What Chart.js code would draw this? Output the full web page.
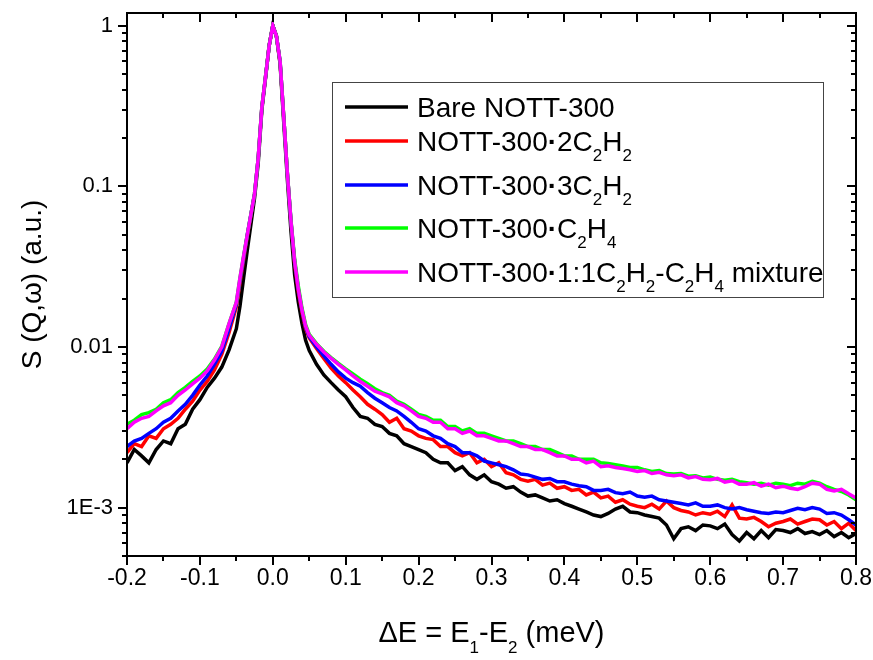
<!DOCTYPE html>
<html>
<head>
<meta charset="utf-8">
<script src="https://cdn.jsdelivr.net/npm/chart.js@4.4.1/dist/chart.umd.min.js"></script>
<style>
  html, body { margin: 0; padding: 0; background: #fff; }
  #wrap { width: 873px; height: 660px; }
</style>
</head>
<body>
<div id="wrap"><canvas id="chart" width="873" height="660"></canvas></div>
<script>
// energy transfer (meV) - finer steps round the elastic peak
const energy = [
  -0.20, -0.19, -0.18, -0.17, -0.16, -0.15, -0.14, -0.13, -0.12, -0.11,
  -0.10, -0.09, -0.08, -0.07, -0.06, -0.05,
  -0.045, -0.04, -0.035, -0.03, -0.025, -0.02, -0.015, -0.01, -0.005, 0,
  0.005, 0.01, 0.015, 0.02, 0.025, 0.03, 0.035, 0.04, 0.045,
  0.05, 0.06, 0.07, 0.08, 0.09, 0.10,
  0.11, 0.12, 0.13, 0.14, 0.15, 0.16, 0.17, 0.18, 0.19, 0.20,
  0.21, 0.22, 0.23, 0.24, 0.25, 0.26, 0.27, 0.28, 0.29, 0.30,
  0.31, 0.32, 0.33, 0.34, 0.35, 0.36, 0.37, 0.38, 0.39, 0.40,
  0.41, 0.42, 0.43, 0.44, 0.45, 0.46, 0.47, 0.48, 0.49, 0.50,
  0.51, 0.52, 0.53, 0.54, 0.55, 0.56, 0.57, 0.58, 0.59, 0.60,
  0.61, 0.62, 0.63, 0.64, 0.65, 0.66, 0.67, 0.68, 0.69, 0.70,
  0.71, 0.72, 0.73, 0.74, 0.75, 0.76, 0.77, 0.78, 0.79, 0.80
];

const bare = [
  0.0019, 0.0023, 0.0021, 0.0019, 0.0023, 0.0026, 0.0025, 0.0031, 0.0033, 0.0041,
  0.0047, 0.0056, 0.0064, 0.0075, 0.0096, 0.0130,
  0.018, 0.027, 0.040, 0.058, 0.085, 0.14, 0.30, 0.47, 0.75, 1.0,
  0.86, 0.58, 0.25, 0.11, 0.052, 0.028, 0.019, 0.014, 0.011,
  0.0095, 0.0078, 0.0067, 0.0060, 0.0054, 0.0049,
  0.0042, 0.0037, 0.0036, 0.0033, 0.0032, 0.0029, 0.0028, 0.0025, 0.0024, 0.0023,
  0.0022, 0.0020, 0.0019, 0.0019, 0.0017, 0.0018, 0.0016, 0.0015, 0.0016, 0.00145,
  0.00140, 0.00132, 0.00135, 0.00125, 0.00118, 0.00120, 0.00115, 0.00110, 0.00112, 0.00106,
  0.00102, 0.00098, 0.00094, 0.00090, 0.00088, 0.00092, 0.00098, 0.00102, 0.00094, 0.00093,
  0.00090, 0.00088, 0.00086, 0.00078, 0.00064, 0.00074, 0.00076, 0.00072, 0.00078, 0.00077,
  0.00074, 0.00079, 0.00068, 0.00062, 0.00070, 0.00064, 0.00072, 0.00065, 0.00073, 0.00072,
  0.00070, 0.00074, 0.00069, 0.00071, 0.00068, 0.00072, 0.00066, 0.00070, 0.00065, 0.00069
];

const twoC2H2 = [
  0.0022, 0.0025, 0.0024, 0.0028, 0.0027, 0.0031, 0.0033, 0.0036, 0.0041, 0.0046,
  0.0054, 0.0061, 0.0072, 0.0090, 0.0123, 0.0178,
  0.025, 0.035, 0.049, 0.066, 0.09, 0.15, 0.31, 0.48, 0.75, 1.0,
  0.86, 0.59, 0.27, 0.12, 0.059, 0.033, 0.022, 0.0165, 0.0130,
  0.0114, 0.0098, 0.0085, 0.0074, 0.0066, 0.0060,
  0.0054, 0.0049, 0.0044, 0.0041, 0.0038, 0.0034, 0.0036, 0.0031, 0.0030, 0.0028,
  0.0027, 0.00265, 0.0024, 0.0024, 0.0022, 0.0021, 0.0022, 0.0019, 0.0020, 0.0018,
  0.0019, 0.00165, 0.0016, 0.0015, 0.00146, 0.00150, 0.00138, 0.00142, 0.00132, 0.00135,
  0.00128, 0.00130, 0.00120, 0.00125, 0.00115, 0.00118, 0.00108, 0.00112, 0.00105, 0.00102,
  0.00100, 0.00105, 0.00098, 0.00110, 0.00100, 0.00096, 0.00094, 0.00090, 0.00093, 0.00091,
  0.00095, 0.00088, 0.00104, 0.00086, 0.00085, 0.00087, 0.00082, 0.00076, 0.00080, 0.00082,
  0.00085, 0.00079, 0.00082, 0.00085, 0.00084, 0.00078, 0.00082, 0.00074, 0.00080, 0.00072
];

const threeC2H2 = [
  0.0024, 0.0026, 0.0027, 0.0029, 0.0031, 0.0034, 0.0036, 0.0040, 0.0044, 0.0050,
  0.0058, 0.0066, 0.0078, 0.0094, 0.0130, 0.0185,
  0.026, 0.036, 0.050, 0.067, 0.09, 0.15, 0.31, 0.48, 0.75, 1.0,
  0.86, 0.60, 0.27, 0.12, 0.060, 0.034, 0.023, 0.017, 0.0133,
  0.0116, 0.0100, 0.0088, 0.0078, 0.0070, 0.0064,
  0.0060, 0.0057, 0.0052, 0.0048, 0.0045, 0.0042, 0.0040, 0.0037, 0.0034, 0.0031,
  0.0030, 0.0028, 0.0027, 0.0025, 0.0024, 0.0022, 0.0022, 0.0021, 0.00195, 0.0019,
  0.00185, 0.0018, 0.00172, 0.00162, 0.00160, 0.00155, 0.00150, 0.00152, 0.00145, 0.00145,
  0.00140, 0.00137, 0.00135, 0.00128, 0.00128, 0.00130, 0.00124, 0.00122, 0.00125, 0.00118,
  0.00116, 0.00118, 0.00112, 0.00110, 0.00108, 0.00106, 0.00104, 0.00107, 0.00102, 0.00102,
  0.00104, 0.00100, 0.00098, 0.00100, 0.00097, 0.00095, 0.00093, 0.00092, 0.00094, 0.00093,
  0.00096, 0.00099, 0.00097, 0.00100, 0.00098, 0.00092, 0.00093, 0.00090, 0.00084, 0.00078
];

const c2H4 = [
  0.0033, 0.0035, 0.0038, 0.0039, 0.0041, 0.0045, 0.0047, 0.0052, 0.0056, 0.0061,
  0.0066, 0.0073, 0.0084, 0.0101, 0.0140, 0.0190,
  0.027, 0.037, 0.050, 0.067, 0.09, 0.15, 0.31, 0.48, 0.75, 1.0,
  0.86, 0.60, 0.27, 0.12, 0.061, 0.035, 0.024, 0.0175, 0.0138,
  0.0120, 0.0105, 0.0094, 0.0086, 0.0079, 0.0073,
  0.0068, 0.0063, 0.0059, 0.0055, 0.0052, 0.0050, 0.0046, 0.0044, 0.0041, 0.0038,
  0.0037, 0.0035, 0.0035, 0.0032, 0.0032, 0.0030, 0.0031, 0.0029, 0.0029, 0.0028,
  0.0027, 0.0026, 0.0026, 0.0025, 0.0024, 0.0024, 0.0023, 0.0023, 0.0022, 0.0021,
  0.0021, 0.0020, 0.0020, 0.0020, 0.0019, 0.00188, 0.00185, 0.00182, 0.00178, 0.00178,
  0.00172, 0.00168, 0.00170, 0.00163, 0.00162, 0.00163, 0.00157, 0.00158, 0.00153, 0.00155,
  0.00150, 0.00148, 0.00150, 0.00145, 0.00143, 0.00140, 0.00142, 0.00138, 0.00142, 0.00140,
  0.00137, 0.00142, 0.00140, 0.00146, 0.00142, 0.00135, 0.00130, 0.00126, 0.00120, 0.00112
];

const mixture = [
  0.0031, 0.0034, 0.0036, 0.0037, 0.0040, 0.0043, 0.0045, 0.0050, 0.0054, 0.0059,
  0.0064, 0.0071, 0.0083, 0.0100, 0.0140, 0.0190,
  0.027, 0.037, 0.050, 0.067, 0.09, 0.15, 0.31, 0.48, 0.75, 1.0,
  0.86, 0.60, 0.27, 0.12, 0.060, 0.034, 0.023, 0.017, 0.0135,
  0.0118, 0.0104, 0.0093, 0.0085, 0.0078, 0.0072,
  0.0066, 0.0061, 0.0057, 0.0053, 0.0051, 0.0049, 0.0045, 0.0043, 0.0040, 0.0037,
  0.0036, 0.0034, 0.0034, 0.0031, 0.0031, 0.0029, 0.0030, 0.0028, 0.0028, 0.0027,
  0.0026, 0.0026, 0.0025, 0.0024, 0.0024, 0.0023, 0.0023, 0.0022, 0.0021, 0.0021,
  0.0020, 0.0020, 0.0019, 0.00195, 0.0018, 0.00182, 0.00178, 0.00175, 0.00172, 0.00168,
  0.00170, 0.00163, 0.00166, 0.00160, 0.00158, 0.00160, 0.00153, 0.00156, 0.00150, 0.00149,
  0.00152, 0.00144, 0.00147, 0.00140, 0.00140, 0.00143, 0.00136, 0.00140, 0.00133, 0.00136,
  0.00132, 0.00130, 0.00135, 0.00142, 0.00140, 0.00130, 0.00127, 0.00130, 0.00122, 0.00115
];

const seriesLabels = [
  'Bare NOTT-300',
  'NOTT-300·2C₂H₂',
  'NOTT-300·3C₂H₂',
  'NOTT-300·C₂H₄',
  'NOTT-300·1:1C₂H₂-C₂H₄ mixture'
];
const seriesColors = ['#000000', '#ff0000', '#0000ff', '#00ff00', '#ff00ff'];
const seriesValues = [bare, twoC2H2, threeC2H2, c2H4, mixture];

const xMajorTicks = [-0.2, -0.1, 0, 0.1, 0.2, 0.3, 0.4, 0.5, 0.6, 0.7, 0.8];
const xMinorTicks = [-0.15, -0.05, 0.05, 0.15, 0.25, 0.35, 0.45, 0.55, 0.65, 0.75];
const yMajorTicks = [0.001, 0.01, 0.1, 1];
const yTickLabels = ['1E-3', '0.01', '0.1', '1'];
const yMinorTicks = [
  0.0005, 0.0006, 0.0007, 0.0008, 0.0009,
  0.002, 0.003, 0.004, 0.005, 0.006, 0.007, 0.008, 0.009,
  0.02, 0.03, 0.04, 0.05, 0.06, 0.07, 0.08, 0.09,
  0.2, 0.3, 0.4, 0.5, 0.6, 0.7, 0.8, 0.9
];

const xTitle = 'ΔE = E₁-E₂ (meV)';
const yTitle = 'S (Q,ω) (a.u.)';

const FONT = '"Liberation Sans", Arial, sans-serif';
const NARROW = '"Liberation Sans Narrow", "Arial Narrow", "Liberation Sans", sans-serif';
const SUBS = { '₀': '0', '₁': '1', '₂': '2', '₃': '3', '₄': '4' };

// split a label into normal / subscript / bold-dot runs
function richParts(text) {
  const parts = [];
  for (const ch of text) {
    const kind = SUBS[ch] !== undefined ? 'sub' : (ch === '·' ? 'dot' : 'main');
    const s = kind === 'sub' ? SUBS[ch] : ch;
    const last = parts[parts.length - 1];
    if (last && last.kind === kind) last.text += s;
    else parts.push({ text: s, kind: kind });
  }
  return parts;
}

function drawRich(ctx, text, x, y, size, align) {
  const parts = richParts(text);
  const fonts = {
    main: size + 'px ' + FONT,
    dot: 'bold ' + size + 'px ' + FONT,
    sub: Math.round(size * 0.6) + 'px ' + FONT
  };
  let w = 0;
  parts.forEach(p => {
    ctx.font = fonts[p.kind];
    p.w = ctx.measureText(p.text).width;
    w += p.w;
  });
  let cx = align === 'center' ? x - w / 2 : x;
  ctx.textAlign = 'left';
  ctx.textBaseline = 'alphabetic';
  parts.forEach(p => {
    ctx.font = fonts[p.kind];
    ctx.fillText(p.text, cx, p.kind === 'sub' ? y + size * 0.37 : y);
    cx += p.w;
  });
}

const originFrame = {
  id: 'originFrame',
  afterDraw(chart) {
    const { ctx, chartArea: a, scales } = chart;
    const xs = scales.x, ys = scales.y;
    ctx.save();
    ctx.strokeStyle = '#000';
    ctx.fillStyle = '#000';

    // box
    ctx.lineWidth = 2;
    ctx.strokeRect(a.left, a.top, a.right - a.left, a.bottom - a.top);

    // ticks: outward on bottom/left, inward on top/right
    ctx.beginPath();
    const xTick = (v, len) => {
      const px = Math.round(xs.getPixelForValue(v));
      ctx.moveTo(px, a.bottom); ctx.lineTo(px, a.bottom + len);
      ctx.moveTo(px, a.top); ctx.lineTo(px, a.top + len);
    };
    const yTick = (v, len) => {
      const py = Math.round(ys.getPixelForValue(v));
      ctx.moveTo(a.left, py); ctx.lineTo(a.left - len, py);
      ctx.moveTo(a.right, py); ctx.lineTo(a.right - len, py);
    };
    xMajorTicks.forEach(v => xTick(v, 9));
    xMinorTicks.forEach(v => xTick(v, 5));
    yMajorTicks.forEach(v => yTick(v, 9));
    yMinorTicks.forEach(v => yTick(v, 5));
    ctx.stroke();

    // axis titles
    drawRich(ctx, xTitle, (a.left + a.right) / 2, 642, 29, 'center');
    ctx.save();
    ctx.translate(31, (a.top + a.bottom) / 2);
    ctx.rotate(-Math.PI / 2);
    drawRich(ctx, yTitle, 0, 10, 28, 'center');
    ctx.restore();

    // legend box
    const box = { left: 332, top: 82, right: 823, bottom: 297 };
    ctx.lineWidth = 1;
    ctx.strokeStyle = '#444';
    ctx.fillStyle = '#fff';
    ctx.fillRect(box.left, box.top, box.right - box.left, box.bottom - box.top);
    ctx.strokeRect(box.left + 0.5, box.top + 0.5, box.right - box.left, box.bottom - box.top);
    const rows = [107, 141, 185, 228, 272];
    chart.data.datasets.forEach((ds, i) => {
      const cy = rows[i];
      ctx.strokeStyle = ds.borderColor;
      ctx.lineWidth = 3.5;
      ctx.beginPath();
      ctx.moveTo(345, cy);
      ctx.lineTo(408, cy);
      ctx.stroke();
      ctx.fillStyle = '#000';
      drawRich(ctx, ds.label, 417, cy + 10, 28, 'left');
    });
    ctx.restore();
  }
};

const datasets = seriesValues.map((vals, i) => ({
  label: seriesLabels[i],
  data: energy.map((e, k) => ({ x: e, y: vals[k] })),
  borderColor: seriesColors[i],
  backgroundColor: seriesColors[i],
  borderWidth: 3.5,
  pointRadius: 0,
  tension: 0,
  fill: false,
  order: seriesValues.length - 1 - i
}));

// no automatic label overhang padding: the frame is placed by layout padding only
const noOverhang = s => {
  s.paddingLeft = 0; s.paddingRight = 0; s.paddingTop = 0; s.paddingBottom = 0;
};

new Chart(document.getElementById('chart'), {
  type: 'line',
  data: { datasets: datasets },
  plugins: [originFrame],
  options: {
    responsive: false,
    animation: false,
    layout: { padding: { top: 13, right: 17, left: 0, bottom: 0 } },
    plugins: {
      legend: { display: false },
      title: { display: false },
      tooltip: { enabled: false }
    },
    scales: {
      x: {
        type: 'linear',
        min: -0.2,
        max: 0.8,
        grid: { display: false, drawTicks: false },
        border: { display: false },
        afterBuildTicks: s => { s.ticks = xMajorTicks.map(v => ({ value: v })); },
        afterFit: s => { s.height = 104; noOverhang(s); },
        ticks: {
          padding: 9,
          color: '#000',
          font: { family: NARROW, size: 23 },
          maxRotation: 0,
          autoSkip: false,
          callback: v => v.toFixed(1)
        }
      },
      y: {
        type: 'logarithmic',
        min: 0.0005,
        max: 1.2,
        grid: { display: false, drawTicks: false },
        border: { display: false },
        afterBuildTicks: s => {
          s.ticks = yMinorTicks.concat(yMajorTicks).sort((p, q) => p - q).map(v => ({ value: v }));
        },
        afterFit: s => { s.width = 127; noOverhang(s); },
        ticks: {
          padding: 14,
          color: '#000',
          font: { family: FONT, size: 22 },
          autoSkip: false,
          callback: v => {
            const k = yMajorTicks.findIndex(m => Math.abs(m - v) / m < 1e-6);
            return k >= 0 ? yTickLabels[k] : '';
          }
        }
      }
    }
  }
});
</script>
</body>
</html>
